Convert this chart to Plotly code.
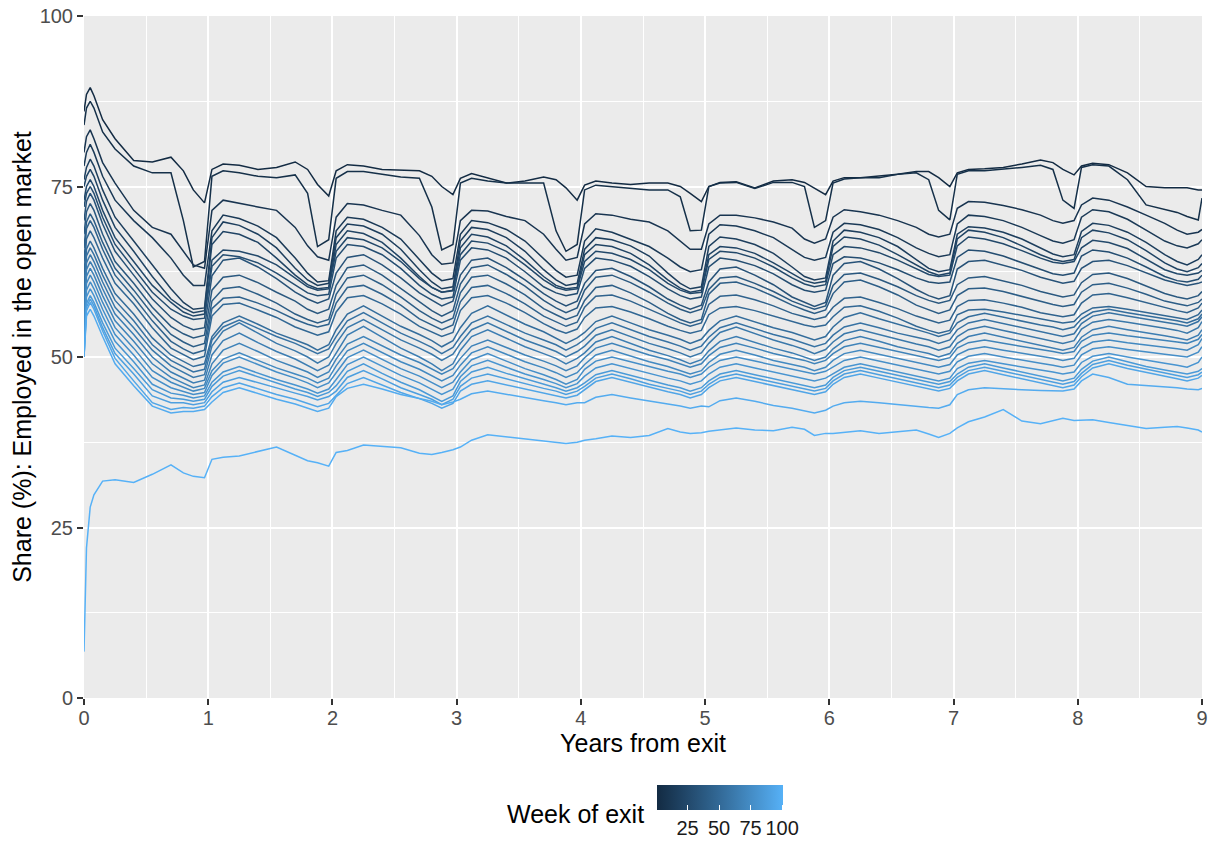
import plotly.graph_objects as go

# ---------------- data ----------------
years = [0, 0.02, 0.05, 0.08, 0.15, 0.25, 0.4, 0.55, 0.7, 0.8, 0.88, 0.97,
         1.03, 1.12, 1.25, 1.4, 1.55, 1.7, 1.8, 1.88, 1.97,
         2.03, 2.12, 2.25, 2.4, 2.55, 2.7, 2.8, 2.88, 2.97,
         3.03, 3.12, 3.25, 3.4, 3.55, 3.7, 3.8, 3.88, 3.97,
         4.03, 4.12, 4.25, 4.4, 4.55, 4.7, 4.8, 4.88, 4.97,
         5.03, 5.12, 5.25, 5.4, 5.55, 5.7, 5.8, 5.88, 5.97,
         6.03, 6.12, 6.25, 6.4, 6.55, 6.7, 6.8, 6.88, 6.97,
         7.03, 7.12, 7.25, 7.4, 7.55, 7.7, 7.8, 7.88, 7.97,
         8.03, 8.12, 8.25, 8.4, 8.55, 8.7, 8.8, 8.88, 8.97,
         9.0]

exit_weeks = [1, 5, 9, 13, 17, 21, 25, 29, 33, 37, 41, 45, 49, 53, 57, 61, 65, 69, 73, 77, 81, 85, 89, 93, 97, 101]

share_w01 = [86, 88.5, 89.5, 88.3, 84.8, 82, 78.8, 78.6, 79.3, 77.3, 74.5, 72.6,
             77.5, 78.3, 78.1, 77.5, 77.8, 78.6, 77.5, 75.3, 73.6,
             77.3, 78.2, 78.0, 77.5, 77.4, 77.3, 76.5, 75.0, 73.8,
             76.2, 76.9, 76.2, 75.5, 75.8, 76.4, 76.0, 74.8, 73.0,
             75.2, 75.8, 75.5, 75.3, 75.5, 75.5, 75.0, 74.0, 72.8,
             75.0, 75.6, 75.7, 74.8, 75.8, 76.0, 75.6, 74.8, 73.8,
             75.8, 76.3, 76.3, 76.5, 76.8, 77.2, 77.2, 76.3, 75.0,
             77.0, 77.5, 77.6, 77.8, 78.3, 78.9, 78.5, 77.5, 76.7,
             78.0, 78.4, 78.2, 77.0, 75.0, 74.8, 74.8, 74.8, 74.5,
             74.5]
share_w05 = [84, 86.5, 87.5, 86.5, 83, 80.5, 78, 77, 77, 70, 63.2, 64,
             76.5, 77.3, 77, 76.5, 76.3, 76.7, 74, 66.2, 67.2,
             76.2, 77.2, 77.2, 76.8, 76.4, 76.2, 72, 65.7, 66.5,
             75.5, 76.2, 75.8, 75.5, 75.5, 75.5, 68.5, 65.5, 66.5,
             74.5, 75.2, 75, 74.8, 74.5, 74.5, 73.5, 68.5, 68.6,
             75, 75.5, 75.6, 74.7, 75.6, 75.6, 75, 69, 70,
             75.5, 76.1, 76.3, 76.3, 76.8, 77, 76, 71.5, 70.1,
             76.8, 77.3, 77.3, 77.5, 77.8, 78.1, 77.5, 73, 71.8,
             77.8, 78.2, 78, 76, 72.3, 71.6, 71.2, 70.6, 70.1,
             73.3]
share_w09 = [80, 82.3, 83.3, 82, 78.5, 75.5, 71.5, 69, 68, 65.5, 63.5, 63,
             71.5, 73, 72.5, 72, 71.5, 69, 66.3, 64.7, 64.2,
             70.5, 72.5, 72.3, 71.5, 70.8, 67.8, 65, 63.6, 63.8,
             70, 71.5, 71.4, 70.6, 70, 68, 65.8, 64.2, 64.6,
             69.5, 71, 70.8, 70.2, 69.8, 68.5, 67, 65.8, 65.8,
             69.5, 70.8, 70.8, 70.4, 69.8, 68.9, 67.3, 66.7, 67.3,
             70.5, 71.6, 71.3, 70.8, 70, 69, 68, 67.6, 68,
             71.8, 72.8, 72.7, 72.2, 71.6, 70.8, 70, 69.6, 70,
             72.3, 73.3, 73, 72, 70.8, 69.6, 68.6, 68, 68.3,
             68.7]
share_w13 = [78, 80, 81.2, 80, 76.5, 73, 70, 67.5, 64.5, 62, 60.5, 60.5,
             68.5, 70.8, 70.3, 69.2, 67.5, 64.5, 62.3, 61, 61.2,
             68.5, 70.5, 70.2, 69, 67.3, 64.3, 62.3, 61.2, 61.5,
             68, 70, 69.7, 68.7, 67, 64.5, 62.7, 61.7, 62,
             67, 68.8, 68.3, 67.3, 66.2, 64.5, 63.2, 62.5, 62.8,
             68, 69.4, 69.2, 68.5, 67.5, 65.8, 64.6, 64.2, 64.6,
             68.3, 69.6, 69.4, 68.7, 67.5, 66, 65.2, 64.7, 65,
             69.5, 70.8, 70.6, 70, 69, 67.8, 67, 66.7, 67.2,
             70.5, 71.6, 71.3, 70.2, 68.6, 67, 66.3, 66, 66.6,
             67.2]
share_w17 = [76, 77.8, 79, 78, 74.5, 70.5, 67, 63.5, 60, 58, 57, 57.2,
             67.5, 69.8, 69.3, 68, 66, 63, 61.3, 60.5, 60.8,
             67.5, 69.5, 69.2, 68, 65.8, 62.8, 61, 60, 60.3,
             67, 69, 68.7, 67.5, 65.5, 62.8, 61.3, 60.5, 60.8,
             65.8, 67.5, 67.2, 66.3, 64.8, 62.3, 60.8, 60, 60.3,
             66.2, 67.6, 67.3, 66.5, 65.2, 63.2, 61.8, 61.3, 61.6,
             67, 68.6, 68.3, 67.5, 66.2, 64.3, 63, 62.5, 62.8,
             68, 69.1, 68.9, 68.3, 67.3, 66, 65.1, 64.7, 65,
             68.4, 69.6, 69.3, 68.3, 66.8, 65, 64, 63.5, 64.3,
             65]
share_w21 = [75, 76.5, 77.5, 76.5, 73, 69, 65.5, 61.8, 58.5, 57.2, 56.5, 56.8,
             66.5, 68.4, 68, 66.8, 64.5, 62, 60.6, 60, 60.2,
             66.5, 68.5, 68.1, 66.8, 64.5, 61.8, 60.2, 59.5, 59.8,
             66, 68, 67.6, 66.3, 64.2, 61.8, 60.5, 60, 60.2,
             65, 66.5, 66.2, 65.2, 63.5, 61.3, 60.1, 59.5, 59.8,
             65, 66.2, 66, 65.2, 63.8, 62.2, 61.2, 60.8, 61.1,
             66.2, 67.6, 67.3, 66.4, 65, 63.5, 62.5, 62, 62.3,
             67.3, 68.6, 68.3, 67.5, 66.3, 65, 64.3, 64, 64.3,
             67.5, 68.6, 68.2, 67.2, 65.6, 63.8, 62.9, 62.5, 63.1,
             63.7]
share_w25 = [73, 75, 76, 75, 71.5, 67.5, 64, 60.5, 58, 56.6, 56, 56.3,
             64.2, 65.7, 65.5, 64.8, 63.5, 61.5, 60.3, 59.8, 60,
             65.5, 67.5, 67.2, 66, 64, 61.5, 60.2, 59.5, 59.7,
             65, 67, 66.7, 65.5, 63.5, 61.3, 60.2, 59.8, 60,
             64, 65.5, 65.2, 64.3, 62.8, 60.8, 59.8, 59.3, 59.5,
             64.3, 65.5, 65.3, 64.5, 63.2, 61.6, 60.7, 60.3, 60.6,
             65, 66.2, 66, 65.3, 64.2, 62.9, 62.1, 61.8, 62,
             66.3, 67.6, 67.3, 66.6, 65.6, 64.5, 63.9, 63.7, 64,
             66, 67.1, 66.8, 65.9, 64.4, 62.8, 62.2, 62, 62.3,
             62.7]
share_w29 = [72, 74, 75, 74, 70.5, 66.5, 63, 59.5, 57, 56, 55.5, 55.7,
             63.3, 65, 64.7, 63.8, 62.3, 60.5, 59.4, 59, 59.2,
             64.5, 66.5, 66.2, 65, 63, 60.5, 59.2, 58.5, 58.8,
             64.2, 66, 65.7, 64.5, 62.5, 60.3, 59.4, 59, 59.3,
             63, 64.5, 64.2, 63.3, 61.8, 60, 59, 58.5, 58.8,
             63.2, 64.5, 64.2, 63.4, 62.2, 60.6, 59.8, 59.5, 59.8,
             63.7, 64.7, 64.5, 63.8, 62.8, 61.6, 61, 60.8, 61,
             64.6, 65.7, 65.5, 64.8, 63.8, 62.8, 62.2, 62, 62.3,
             64.8, 65.7, 65.4, 64.5, 63.2, 61.8, 61.2, 61, 61.4,
             62]
share_w33 = [70, 72.8, 74, 73, 69.5, 65.5, 62, 58.5, 55.8, 54.6, 54, 54.3,
             61.9, 64.2, 64.5, 63.2, 61.5, 59.5, 58.5, 57.9, 58.5,
             62.3, 64.6, 65, 63.5, 61.6, 59.4, 58.3, 57.5, 58.2,
             62, 64.2, 64.5, 63.1, 61.3, 59.3, 58.2, 57.5, 58.2,
             60.8, 62.7, 63, 61.8, 60.3, 58.5, 57.6, 57, 57.6,
             61, 62.9, 63.2, 62, 60.6, 58.8, 58, 57.4, 58,
             62, 63.7, 64, 62.9, 61.5, 59.9, 59, 58.5, 59,
             62.9, 64, 64.2, 63.5, 62.7, 61.7, 61.2, 60.8, 61.1,
             63, 64, 64.2, 63.4, 62.4, 61.3, 60.8, 60.5, 60.8,
             61]
share_w37 = [68, 71.3, 72.5, 71.5, 68, 64, 60.8, 57.3, 54.5, 53.4, 52.8, 53.2,
             59.8, 61.7, 62, 60.9, 59.5, 58.2, 57, 56.4, 57,
             60.5, 63.1, 63.5, 62, 60.1, 58.2, 56.8, 56, 56.8,
             60.7, 63.1, 63.5, 62.1, 60.4, 58.3, 57.2, 56.5, 57.2,
             59.8, 61.7, 62, 60.9, 59.5, 57.9, 57, 56.5, 57,
             59.9, 61.6, 61.8, 60.8, 59.6, 58.2, 57.5, 57, 57.5,
             60.5, 62.1, 62.3, 61.4, 60.3, 59, 58.3, 57.9, 58.3,
             60.6, 61.6, 61.8, 61.2, 60.5, 59.6, 59.1, 58.8, 59.1,
             60.9, 62.1, 62.3, 61.5, 60.4, 59.3, 58.8, 58.5, 59,
             59.6]
share_w41 = [66, 69.8, 71, 70, 66.8, 63, 59.8, 56.3, 53.3, 52.2, 51.5, 52,
             58.2, 60, 60.3, 59.2, 57.9, 56.3, 55.5, 55, 55.5,
             59.2, 61.6, 62, 60.6, 58.8, 56.8, 55.7, 55, 55.7,
             59.4, 61.7, 62, 60.7, 59.1, 57.1, 56.2, 55.5, 56.1,
             58.3, 60.2, 60.5, 59.4, 58, 56.4, 55.5, 55, 55.5,
             59.2, 60.8, 61, 60.1, 58.9, 57.6, 56.9, 56.4, 56.9,
             59.3, 61, 61.3, 60.3, 59.1, 57.6, 56.9, 56.4, 56.9,
             59, 60, 60.1, 59.6, 58.9, 58.1, 57.7, 57.4, 57.7,
             59.5, 60.6, 60.8, 60.1, 59.2, 58.2, 57.8, 57.5, 58,
             58.5]
share_w45 = [64, 68.8, 70, 69, 65.8, 62, 58.8, 55.3, 52.3, 51.2, 50.5, 51,
             57.1, 58.6, 58.8, 57.9, 56.8, 55.5, 54.8, 54.4, 54.8,
             57.9, 60.2, 60.5, 59.2, 57.6, 55.6, 54.7, 54, 54.7,
             58.1, 60.2, 60.5, 59.3, 57.8, 56, 55.1, 54.5, 55.1,
             57.3, 58.9, 59.1, 58.2, 57, 55.7, 55, 54.5, 55,
             57.7, 58.9, 59.1, 58.4, 57.5, 56.4, 55.9, 55.5, 55.9,
             57.3, 58.6, 58.8, 58, 57.1, 56, 55.4, 55, 55.4,
             57.4, 58.3, 58.4, 57.9, 57.3, 56.5, 56.2, 55.9, 56.2,
             57.9, 59.1, 59.3, 58.7, 58, 57.2, 56.8, 56.5, 57.2,
             57.9]
share_w49 = [62, 67.3, 68.5, 67.5, 64.5, 60.8, 57.8, 54.3, 51.3, 50.3, 49.6, 50.1,
             56, 57.7, 57.9, 56.9, 55.8, 54.4, 53.7, 53.2, 53.7,
             56.6, 58.7, 59, 57.8, 56.3, 54.5, 53.6, 53, 53.6,
             56.8, 58.7, 59, 57.9, 56.5, 54.9, 54, 53.5, 54.1,
             55.8, 57.2, 57.4, 56.6, 55.6, 54.5, 53.9, 53.5, 53.9,
             56.2, 57.2, 57.4, 56.8, 56, 55.2, 54.7, 54.4, 54.7,
             55.9, 57.3, 57.5, 56.7, 55.7, 54.5, 53.9, 53.5, 53.9,
             56.2, 56.9, 57, 56.6, 56.1, 55.5, 55.2, 55, 55.2,
             56.3, 57.2, 57.4, 57, 56.5, 56, 55.7, 55.5, 56.2,
             56.9]
share_w53 = [60, 65.8, 67, 66, 63, 59.3, 56.3, 52.8, 50.3, 49.3, 48.6, 49,
             53, 55, 56, 54.8, 53.5, 52.5, 51.8, 51, 51.8,
             54, 56.3, 57.5, 56, 54.5, 53.3, 52.4, 51.5, 52.4,
             54.3, 56.4, 57.5, 56.1, 54.8, 53.7, 52.8, 52, 52.8,
             53.6, 55.2, 56, 55, 54, 53.2, 52.6, 52, 52.6,
             53.9, 55.3, 56, 55.1, 54.3, 53.6, 53, 52.5, 53,
             54.4, 55.8, 56.5, 55.6, 54.8, 54.1, 53.5, 53, 53.5,
             55, 55.9, 56.4, 55.8, 55.2, 54.7, 54.4, 54, 54.4,
             55.6, 56.6, 57, 56.5, 56, 55.6, 55.3, 55, 55.6,
             56.3]
share_w57 = [58, 64.8, 66, 65, 62, 58.3, 55.3, 51.8, 49.5, 48.5, 47.8, 48.2,
             52.5, 54.4, 55.4, 54.2, 53, 52, 51.2, 50.5, 51.2,
             53, 55.3, 56.5, 55, 53.5, 52.3, 51.4, 50.5, 51.4,
             53, 55, 56, 54.8, 53.5, 52.5, 51.8, 51, 51.8,
             52.6, 54.2, 55, 54, 53, 52.2, 51.6, 51, 51.6,
             52.9, 54.3, 55, 54.1, 53.3, 52.6, 52, 51.5, 52,
             53.2, 54.4, 55, 54.3, 53.5, 52.9, 52.5, 52, 52.5,
             54, 55, 55.5, 54.9, 54.3, 53.8, 53.4, 53, 53.4,
             54.9, 56, 56.5, 56, 55.5, 55.1, 54.8, 54.5, 55.2,
             55.9]
share_w61 = [57, 63.8, 65, 64, 61, 57.3, 54.3, 51, 48.7, 47.7, 47, 47.4,
             51.6, 53.8, 55, 53.5, 52, 50.9, 50, 49.1, 50,
             52, 54.3, 55.5, 54, 52.5, 51.3, 50.4, 49.5, 50.4,
             52, 54, 55, 53.8, 52.5, 51.5, 50.8, 50, 50.8,
             51.6, 53.2, 54, 53, 52, 51.2, 50.6, 50, 50.6,
             52, 53.6, 54.4, 53.4, 52.5, 51.7, 51.1, 50.5, 51.1,
             52.2, 53.4, 54, 53.3, 52.5, 51.9, 51.5, 51, 51.5,
             53, 54, 54.5, 53.9, 53.3, 52.8, 52.4, 52, 52.4,
             54.1, 55.1, 55.5, 55.1, 54.6, 54.2, 53.9, 53.5, 54.3,
             55.2]
share_w65 = [56, 62.8, 64, 63, 60, 56.3, 53.3, 50, 47.8, 46.9, 46.2, 46.6,
             50.3, 52.4, 53.5, 52.1, 50.8, 49.7, 48.8, 48, 48.8,
             50.6, 53.2, 54.5, 52.9, 51.3, 50, 49, 48, 49,
             51, 53, 54, 52.8, 51.5, 50.5, 49.8, 49, 49.8,
             50.6, 52.2, 53, 52, 51, 50.2, 49.6, 49, 49.6,
             50.9, 52.3, 53, 52.1, 51.3, 50.6, 50, 49.5, 50,
             51.2, 52.4, 53, 52.3, 51.5, 50.9, 50.5, 50, 50.5,
             52, 53, 53.5, 52.9, 52.3, 51.8, 51.4, 51, 51.4,
             52.9, 54, 54.5, 54, 53.5, 53.1, 52.8, 52.5, 53.2,
             54]
share_w69 = [55, 61.8, 63, 62, 59, 55.3, 52.3, 49, 47, 46.2, 45.5, 45.9,
             49, 51, 52, 50.8, 49.5, 48.5, 47.8, 47, 47.8,
             49.7, 51.9, 53, 51.6, 50.3, 49.2, 48.3, 47.5, 48.3,
             49.8, 51.6, 52.5, 51.4, 50.3, 49.4, 48.7, 48, 48.7,
             49.9, 51.3, 52, 51.1, 50.3, 49.6, 49, 48.5, 49,
             50.2, 51.4, 52, 51.3, 50.5, 49.9, 49.5, 49, 49.5,
             50.5, 51.5, 52, 51.4, 50.8, 50.3, 49.9, 49.5, 49.9,
             51.3, 52.1, 52.5, 52, 51.5, 51.1, 50.8, 50.5, 50.8,
             52.3, 53.2, 53.5, 53.1, 52.8, 52.5, 52.2, 52, 52.6,
             53.3]
share_w73 = [54, 60.8, 62, 61, 58, 54.3, 51.3, 48, 46.3, 45.6, 45, 45.4,
             48, 49.7, 50.6, 49.5, 48.4, 47.5, 46.9, 46.2, 46.9,
             48.7, 50.9, 52, 50.6, 49.3, 48.2, 47.3, 46.5, 47.3,
             48.8, 50.6, 51.5, 50.4, 49.3, 48.4, 47.7, 47, 47.7,
             48.9, 50.3, 51, 50.1, 49.3, 48.6, 48, 47.5, 48,
             49.2, 50.4, 51, 50.3, 49.5, 48.9, 48.5, 48, 48.5,
             49.5, 50.5, 51, 50.4, 49.8, 49.3, 48.9, 48.5, 48.9,
             50.3, 51.1, 51.5, 51, 50.5, 50.1, 49.8, 49.5, 49.8,
             51.3, 52.2, 52.5, 52.1, 51.8, 51.5, 51.2, 51, 51.8,
             52.7]
share_w77 = [53, 59.8, 61, 60, 57, 53.3, 50.3, 47, 45.5, 45, 44.5, 44.8,
             47.3, 49.1, 50, 48.9, 47.8, 46.9, 46.2, 45.5, 46.2,
             47.7, 49.9, 51, 49.6, 48.3, 47.2, 46.3, 45.5, 46.3,
             47.8, 49.6, 50.5, 49.4, 48.3, 47.4, 46.7, 46, 46.7,
             48.2, 49.4, 50, 49.3, 48.5, 47.9, 47.5, 47, 47.5,
             48.5, 49.5, 50, 49.4, 48.8, 48.3, 47.9, 47.5, 47.9,
             48.5, 49.5, 50, 49.4, 48.8, 48.3, 47.9, 47.5, 47.9,
             49.3, 50.1, 50.5, 50, 49.5, 49.1, 48.8, 48.5, 48.8,
             50.3, 51.2, 51.5, 51.1, 50.7, 50.4, 50.2, 50, 50.7,
             51.5]
share_w81 = [52, 58.8, 60, 59, 56, 52.3, 49.3, 46, 44.7, 44.4, 44, 44.3,
             46.3, 47.8, 48.6, 47.6, 46.7, 45.9, 45.3, 44.7, 45.3,
             46.7, 48.9, 50, 48.6, 47.3, 46.2, 45.3, 44.5, 45.3,
             47.1, 48.7, 49.5, 48.5, 47.5, 46.7, 46.1, 45.5, 46.1,
             47.2, 48.4, 49, 48.3, 47.5, 46.9, 46.5, 46, 46.5,
             47.5, 48.5, 49, 48.4, 47.8, 47.3, 46.9, 46.5, 46.9,
             47.5, 48.5, 49, 48.4, 47.8, 47.3, 46.9, 46.5, 46.9,
             48.3, 49.1, 49.5, 49, 48.5, 48.1, 47.8, 47.5, 47.8,
             49.2, 50.1, 50.5, 50, 49.5, 49.1, 48.8, 48.5, 49.2,
             50]
share_w85 = [51, 57.8, 59, 58, 55, 51.3, 48.3, 45.2, 44, 43.8, 43.5, 43.8,
             45.7, 47.2, 48, 47.1, 46.1, 45.3, 44.8, 44.2, 44.8,
             45.8, 47.9, 49, 47.6, 46.3, 45.2, 44.3, 43.5, 44.3,
             46.4, 47.8, 48.5, 47.6, 46.8, 46.1, 45.5, 45, 45.5,
             46.2, 47.4, 48, 47.3, 46.5, 45.9, 45.5, 45, 45.5,
             46.5, 47.5, 48, 47.4, 46.8, 46.3, 45.9, 45.5, 45.9,
             47, 48, 48.5, 47.9, 47.3, 46.8, 46.4, 46, 46.4,
             47.5, 48.5, 49, 48.4, 47.8, 47.3, 46.9, 46.5, 46.9,
             48.2, 49.4, 50, 49.3, 48.6, 48.1, 47.8, 47.5, 47.9,
             48.3]
share_w89 = [50, 57.3, 58.5, 57.5, 54.3, 50.5, 47.5, 44.3, 43.3, 43.3, 43, 43.3,
             44.9, 46.3, 47, 46.2, 45.4, 44.7, 44.2, 43.7, 44.2,
             45, 47, 48, 46.8, 45.5, 44.5, 43.8, 43, 43.8,
             45.7, 46.9, 47.5, 46.8, 46, 45.4, 45, 44.5, 45,
             45.7, 46.9, 47.5, 46.8, 46, 45.4, 45, 44.5, 45,
             46, 47, 47.5, 46.9, 46.3, 45.8, 45.4, 45, 45.4,
             46.5, 47.5, 48, 47.4, 46.8, 46.3, 45.9, 45.5, 45.9,
             47, 48, 48.5, 47.9, 47.3, 46.8, 46.4, 46, 46.4,
             47.6, 48.9, 49.5, 48.8, 48.2, 47.7, 47.3, 47, 47.4,
             47.8]
share_w93 = [50, 56.8, 58, 57, 53.8, 49.8, 46.5, 43.3, 42.3, 42.6, 42.5, 42.8,
             44.2, 45.5, 46.2, 45.3, 44.5, 43.8, 43.2, 42.7, 43.2,
             44.3, 46.1, 47, 45.9, 44.8, 43.9, 43.2, 42.5, 43.2,
             45, 46, 46.5, 45.9, 45.3, 44.8, 44.4, 44, 44.4,
             45.2, 46.4, 47, 46.3, 45.5, 44.9, 44.5, 44, 44.5,
             45.5, 46.5, 47, 46.4, 45.8, 45.3, 44.9, 44.5, 44.9,
             46, 47, 47.5, 46.9, 46.3, 45.8, 45.4, 45, 45.4,
             46.5, 47.5, 48, 47.4, 46.8, 46.3, 45.9, 45.5, 45.9,
             47.1, 48.4, 49, 48.3, 47.7, 47.2, 46.8, 46.5, 46.9,
             47.3]
share_w97 = [50, 56, 57, 56, 53, 49, 45.8, 42.8, 41.8, 42, 42, 42.3,
             43.4, 44.8, 45.5, 44.6, 43.8, 43.1, 42.5, 42, 42.5,
             44.2, 45.4, 46, 45.3, 44.5, 43.9, 43.5, 43, 43.4,
             43.8, 44.6, 45, 44.5, 44, 43.6, 43.3, 43, 43.3,
             43.3, 44.1, 44.5, 44, 43.5, 43.1, 42.8, 42.5, 42.8,
             42.7, 43.6, 44, 43.5, 42.9, 42.5, 42.1, 41.8, 42.2,
             42.8, 43.3, 43.5, 43.3, 43, 42.8, 42.6, 42.5, 43,
             44.5, 45.2, 45.5, 45.3, 45.2, 45.1, 45, 45, 45.3,
             46.5, 47.5, 47, 46, 45.8, 45.7, 45.5, 45.3, 45.2,
             45.4]
share_w101 = [6.8, 22, 28, 29.8, 31.8, 32, 31.6, 32.8, 34.2, 33, 32.5, 32.3,
              35, 35.3, 35.5, 36.2, 36.8, 35.6, 34.8, 34.5, 34,
              36, 36.3, 37.1, 36.9, 36.7, 35.9, 35.7, 36, 36.4,
              36.8, 37.8, 38.6, 38.3, 38, 37.6, 37.5, 37.3, 37.5,
              37.8, 38, 38.4, 38.2, 38.5, 39.5, 39, 38.8, 38.9,
              39.1, 39.3, 39.6, 39.3, 39.2, 39.7, 39.4, 38.5, 38.8,
              38.8, 39, 39.2, 38.8, 39, 39.3, 38.7, 38.2, 38.8,
              39.6, 40.5, 41.2, 42.3, 40.6, 40.2, 40.6, 41, 40.7,
              40.7, 40.8, 40.4, 40, 39.5, 39.7, 39.8, 39.6, 39.3,
              39]

series = [share_w01, share_w05, share_w09, share_w13, share_w17, share_w21, share_w25,
          share_w29, share_w33, share_w37, share_w41, share_w45, share_w49, share_w53,
          share_w57, share_w61, share_w65, share_w69, share_w73, share_w77, share_w81,
          share_w85, share_w89, share_w93, share_w97, share_w101]

x_ticks = [0, 1, 2, 3, 4, 5, 6, 7, 8, 9]
y_ticks = [0, 25, 50, 75, 100]
legend_ticks = [25, 50, 75, 100]

# ---------------- colour scale (ggplot default gradient, Lab interpolation) -------------
LOW, HIGH = "#132B43", "#56B1F7"
WMIN, WMAX = 1, 101


def _hex_rgb(h):
    h = h.lstrip("#")
    return [int(h[i:i + 2], 16) / 255 for i in (0, 2, 4)]


def _lin(c):
    return c / 12.92 if c <= 0.04045 else ((c + 0.055) / 1.055) ** 2.4


def _gam(c):
    c = max(0.0, min(1.0, c))
    return 12.92 * c if c <= 0.0031308 else 1.055 * c ** (1 / 2.4) - 0.055


_WHITE = (0.95047, 1.0, 1.08883)


def _to_lab(h):
    r, g, b = [_lin(c) for c in _hex_rgb(h)]
    X = 0.4124 * r + 0.3576 * g + 0.1805 * b
    Y = 0.2126 * r + 0.7152 * g + 0.0722 * b
    Z = 0.0193 * r + 0.1192 * g + 0.9505 * b

    def f(t):
        return t ** (1 / 3) if t > 0.008856 else 7.787 * t + 16 / 116
    fx, fy, fz = f(X / _WHITE[0]), f(Y / _WHITE[1]), f(Z / _WHITE[2])
    return (116 * fy - 16, 500 * (fx - fy), 200 * (fy - fz))


def _from_lab(L, a, b):
    fy = (L + 16) / 116
    fx = fy + a / 500
    fz = fy - b / 200

    def fi(t):
        return t ** 3 if t ** 3 > 0.008856 else (t - 16 / 116) / 7.787
    X, Y, Z = fi(fx) * _WHITE[0], fi(fy) * _WHITE[1], fi(fz) * _WHITE[2]
    r = 3.2406 * X - 1.5372 * Y - 0.4986 * Z
    g = -0.9689 * X + 1.8758 * Y + 0.0415 * Z
    bb = 0.0557 * X - 0.2040 * Y + 1.0570 * Z
    return "#%02x%02x%02x" % tuple(int(round(_gam(c) * 255)) for c in (r, g, bb))


_LAB_LO, _LAB_HI = _to_lab(LOW), _to_lab(HIGH)


def ramp(t):
    return _from_lab(*[lo + (hi - lo) * t for lo, hi in zip(_LAB_LO, _LAB_HI)])


colorscale = [[i / 10, ramp(i / 10)] for i in range(11)]

# ---------------- figure ----------------
FONT = "Liberation Sans, Arial, Helvetica, sans-serif"
W, H = 1216, 845
fig = go.Figure()

for wk, vals in zip(exit_weeks, series):
    fig.add_trace(go.Scatter(
        x=years, y=vals, mode="lines",
        line=dict(color=ramp((wk - WMIN) / (WMAX - WMIN)), width=1.5),
        name=f"Week {wk}", showlegend=False, hoverinfo="skip"))

# colour bar carrier (no visible marks); placed in container coords so it does not push margins
fig.add_trace(go.Scatter(
    x=[None], y=[None], mode="markers", showlegend=False, hoverinfo="skip",
    marker=dict(color=[WMIN], cmin=WMIN, cmax=WMAX, colorscale=colorscale, showscale=True,
                colorbar=dict(orientation="h", lenmode="pixels", len=126, thickness=25,
                              xref="container", yref="container",
                              x=(720.5 + 63) / W, xanchor="center", y=(H - 785) / H, yanchor="top",
                              xpad=0, ypad=0, outlinewidth=0,
                              tickvals=legend_ticks, ticks="inside", ticklen=5,
                              tickcolor="white", tickwidth=1,
                              tickfont=dict(family=FONT, size=20, color="#1a1a1a")))))

axis_common = dict(showline=False, zeroline=False, ticks="outside", ticklen=6,
                   tickwidth=1.5, tickcolor="#333333", gridcolor="white", gridwidth=2,
                   automargin=False,
                   tickfont=dict(family=FONT, size=20, color="#4D4D4D"))

fig.update_xaxes(range=[0, 9], tickvals=x_ticks, **axis_common, ticklabelstandoff=-4,
                 minor=dict(dtick=0.5, tick0=0, showgrid=True, gridcolor="white", gridwidth=1, ticks=""),
                 title=dict(text="Years from exit", font=dict(family=FONT, size=25, color="black"), standoff=4))
fig.update_yaxes(range=[0, 100], tickvals=y_ticks, **axis_common,
                 minor=dict(dtick=12.5, tick0=0, showgrid=True, gridcolor="white", gridwidth=1, ticks=""),
                 title=dict(text="Share (%): Employed in the open market",
                            font=dict(family=FONT, size=25, color="black"), standoff=0))

fig.add_annotation(text="Week of exit", xref="paper", yref="paper",
                   x=(575 - 84) / 1118, y=(698 - 814) / 682,
                   xanchor="center", yanchor="middle", showarrow=False,
                   font=dict(family=FONT, size=25, color="black"))

fig.update_layout(width=W, height=H, margin=dict(l=84, r=14, t=16, b=147, autoexpand=False),
                  paper_bgcolor="white", plot_bgcolor="#EBEBEB",
                  font=dict(family=FONT), showlegend=False)

fig.write_html("out.html")
